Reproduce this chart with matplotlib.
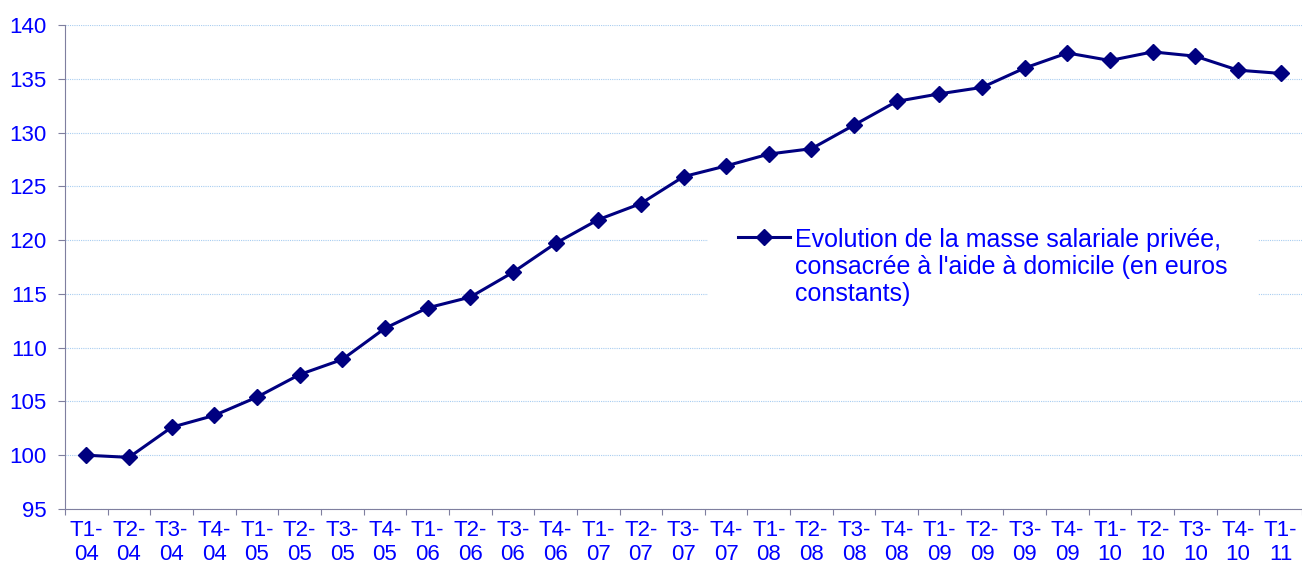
import matplotlib
matplotlib.use('Agg')
import matplotlib.pyplot as plt

# Données
trimestres = ['T1-\n04', 'T2-\n04', 'T3-\n04', 'T4-\n04',
              'T1-\n05', 'T2-\n05', 'T3-\n05', 'T4-\n05',
              'T1-\n06', 'T2-\n06', 'T3-\n06', 'T4-\n06',
              'T1-\n07', 'T2-\n07', 'T3-\n07', 'T4-\n07',
              'T1-\n08', 'T2-\n08', 'T3-\n08', 'T4-\n08',
              'T1-\n09', 'T2-\n09', 'T3-\n09', 'T4-\n09',
              'T1-\n10', 'T2-\n10', 'T3-\n10', 'T4-\n10',
              'T1-\n11']
masse_salariale = [100.0, 99.8, 102.6, 103.7,
                   105.4, 107.5, 108.9, 111.8,
                   113.7, 114.7, 117.0, 119.7,
                   121.9, 123.4, 125.9, 126.9,
                   128.0, 128.5, 130.7, 132.9,
                   133.6, 134.2, 136.0, 137.4,
                   136.7, 137.5, 137.1, 135.8,
                   135.5]
legende = "Evolution de la masse salariale privée,\nconsacrée à l'aide à domicile (en euros\nconstants)"

plt.rcParams['font.family'] = ['Liberation Sans', 'DejaVu Sans']

fig = plt.figure(figsize=(13.02, 5.67), dpi=100)
ax = fig.add_axes([65 / 1302, 1 - 509 / 567, 1237 / 1302, 484 / 567])

x = list(range(len(trimestres)))
ax.plot(x, masse_salariale, color='#000080', linewidth=2.2, marker='D',
        markersize=8.5, label=legende)

ax.set_xlim(-0.5, len(trimestres) - 0.5)
ax.set_ylim(95, 140)
ax.set_yticks(range(95, 141, 5))
ax.grid(axis='y', color='#a9cdf0', linestyle=(0, (1, 1)), linewidth=0.8)
ax.set_axisbelow(True)

# ticks x entre les catégories
ax.set_xticks([i - 0.5 for i in range(len(trimestres) + 1)])
ax.set_xticklabels([])
ax.set_xticks(x, minor=True)
ax.set_xticklabels(trimestres, minor=True)
ax.tick_params(axis='x', which='minor', length=0, pad=8)
ax.tick_params(axis='x', which='major', length=4.5, color='#7f7f9f')
ax.tick_params(axis='y', length=5, pad=8, color='#7f7f9f')
ax.tick_params(axis='both', which='both', labelsize=16, labelcolor='#0000ff')

for s in ['top', 'right']:
    ax.spines[s].set_visible(False)
for s in ['left', 'bottom']:
    ax.spines[s].set_color('#7f7f9f')

leg = ax.legend(loc='upper left', bbox_to_anchor=(0.5093, 0.6674), frameon=True,
                fontsize=18, handlelength=2.1, handletextpad=0.2,
                borderpad=1.2, labelcolor='#0000ff', fancybox=False)
leg.get_frame().set_edgecolor('none')
leg.get_frame().set_facecolor('white')
leg.get_frame().set_alpha(1)
for t in leg.get_texts():
    t.set_linespacing(1.15)
# repère de légende aligné sur la première ligne
for col in leg._legend_handle_box.get_children():
    for item in col.get_children():
        item.align = 'top'

fig.savefig('out.png', dpi=100)
